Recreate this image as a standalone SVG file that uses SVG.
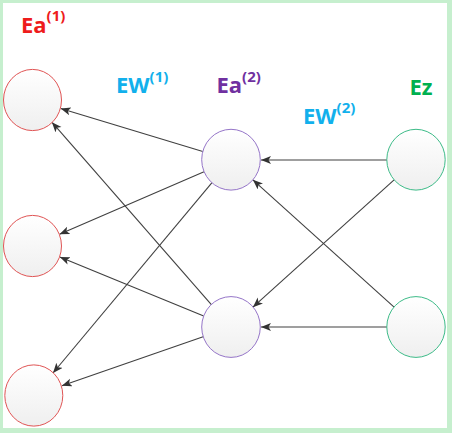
<svg xmlns="http://www.w3.org/2000/svg" width="452" height="433" viewBox="0 0 452 433">
<style>
.lbl{font-family:"Open Sans","Noto Sans","Liberation Sans",sans-serif;font-weight:bold;font-size:22px}
.sup{font-size:15px}
.red{fill:#ee1c1c}.blue{fill:#12b0ec}.purple{fill:#7030a0}.green{fill:#00b050}
.node{fill:url(#g);stroke-width:1}
.conn line{stroke:#404040;stroke-width:1.1;marker-end:url(#arr)}
</style>
<defs>
<linearGradient id="g" x1="0" y1="0" x2="0" y2="1">
<stop offset="0" stop-color="#ffffff"/>
<stop offset="1" stop-color="#efefef"/>
</linearGradient>
<marker id="arr" markerUnits="userSpaceOnUse" markerWidth="12" markerHeight="10" refX="10" refY="4" orient="auto">
<path d="M0,0 L10,4 L0,8 L2.5,4 z" fill="#333"/>
</marker>
</defs>
<rect x="0" y="0" width="452" height="433" fill="#c6efce"/>
<rect x="3" y="3" width="444" height="425" fill="#ffffff"/>
<g id="labels">
<text class="lbl red" x="21" y="33">Ea<tspan class="sup" dy="-12">(1)</tspan></text>
<text class="lbl blue" x="116" y="93">EW<tspan class="sup" dy="-11">(1)</tspan></text>
<text class="lbl purple" x="216.5" y="92.5">Ea<tspan class="sup" dy="-11">(2)</tspan></text>
<text class="lbl blue" x="303" y="123.5">EW<tspan class="sup" dy="-11">(2)</tspan></text>
<text class="lbl green" x="409.5" y="94.5">Ez</text>
</g>
<g id="connectors" class="conn">
<line x1="202.8" y1="151.5" x2="60.7" y2="108.5"/>
<line x1="204" y1="171.7" x2="59.5" y2="234.3"/>
<line x1="212" y1="182.6" x2="53" y2="373"/>
<line x1="211.6" y1="304.8" x2="51.9" y2="122.2"/>
<line x1="203.7" y1="315.9" x2="59.8" y2="257.1"/>
<line x1="203.1" y1="336.7" x2="61.9" y2="385.8"/>
<line x1="387" y1="160" x2="261" y2="160"/>
<line x1="394.1" y1="179.8" x2="252.9" y2="307.2"/>
<line x1="394.1" y1="307.2" x2="252.9" y2="179.8"/>
<line x1="387" y1="327" x2="261" y2="327"/>
</g>
<g id="L1"><ellipse class="node" cx="32.5" cy="100" rx="29" ry="30.6" stroke="#e05555"/></g>
<g id="L2"><ellipse class="node" cx="32.5" cy="246" rx="29" ry="30.6" stroke="#e05555"/></g>
<g id="L3"><ellipse class="node" cx="33.8" cy="395.5" rx="29" ry="30.6" stroke="#e05555"/></g>
<g id="M1"><ellipse class="node" cx="231" cy="159.7" rx="29.3" ry="30.4" stroke="#9575c8"/></g>
<g id="M2"><ellipse class="node" cx="231" cy="327" rx="29.3" ry="30.4" stroke="#9575c8"/></g>
<g id="R1"><ellipse class="node" cx="416" cy="159.7" rx="29.2" ry="30.4" stroke="#3dbb88"/></g>
<g id="R2"><ellipse class="node" cx="416" cy="327" rx="29.2" ry="30.4" stroke="#3dbb88"/></g>
</svg>
